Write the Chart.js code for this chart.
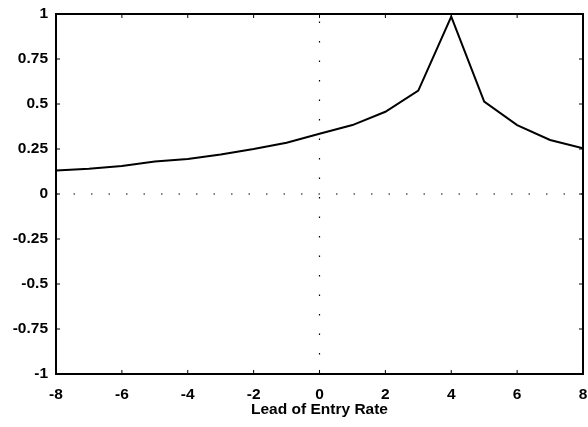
<!DOCTYPE html>
<html><head><meta charset="utf-8">
<script src="https://cdn.jsdelivr.net/npm/chart.js@4"></script>
<style>html,body{margin:0;padding:0;background:#fff}#wrap{width:588px;height:427px}</style>
</head><body><div id="wrap"><canvas id="c" width="588" height="427"></canvas></div>
<script>
const leads = [-8,-7,-6,-5,-4,-3,-2,-1,0,1,2,3,4,5,6,7,8];
const corr = [0.13,0.14,0.155,0.18,0.195,0.22,0.25,0.285,0.335,0.383,0.457,0.574,0.985,0.513,0.383,0.30,0.254];
const xTicks = [-8,-6,-4,-2,0,2,4,6,8];
const yTicks = [-1,-0.75,-0.5,-0.25,0,0.25,0.5,0.75,1];
const xTitle = "Lead of Entry Rate";

const font = {family:"'Liberation Sans', Arial, sans-serif", size:15.5, weight:'bold'};

const framePlugin = {
  id:'frame',
  afterDatasetsDraw(chart){
    const {ctx, chartArea:a, scales:{x,y}} = chart;
    ctx.save();
    ctx.strokeStyle='#000';
    ctx.lineWidth=1;
    ctx.beginPath();
    xTicks.forEach(v=>{const px=x.getPixelForValue(v);
      ctx.moveTo(px,a.bottom);ctx.lineTo(px,a.bottom-4);
      ctx.moveTo(px,a.top);ctx.lineTo(px,a.top+4);});
    yTicks.forEach(v=>{const py=y.getPixelForValue(v);
      ctx.moveTo(a.left,py);ctx.lineTo(a.left+4,py);
      ctx.moveTo(a.right,py);ctx.lineTo(a.right-4,py);});
    ctx.stroke();
    ctx.lineWidth=2;
    ctx.strokeRect(a.left,a.top,a.right-a.left,a.bottom-a.top);
    ctx.restore();
  }
};

new Chart(document.getElementById('c'),{
  type:'line',
  data:{datasets:[
    {data:leads.map((v,i)=>({x:v,y:corr[i]})),borderColor:'#000',borderWidth:2,pointRadius:0,tension:0,fill:false},
    {data:[{x:xTicks[0],y:0},{x:xTicks[xTicks.length-1],y:0}],borderColor:'#000',borderWidth:1.2,borderDash:[1.5,16],pointRadius:0,fill:false},
    {data:[{x:0,y:yTicks[0]},{x:0,y:yTicks[yTicks.length-1]}],borderColor:'#000',borderWidth:1.2,borderDash:[1.5,18],pointRadius:0,fill:false}
  ]},
  options:{
    responsive:false,animation:false,devicePixelRatio:1,
    layout:{padding:{top:14,right:5,left:0,bottom:8}},
    plugins:{legend:{display:false},tooltip:{enabled:false}},
    scales:{
      x:{type:'linear',min:-8,max:8,
        afterBuildTicks(s){s.ticks=xTicks.map(v=>({value:v}));},
        afterFit(s){s.height=45;s.paddingLeft=0;s.paddingRight=0;},
        grid:{display:false,drawTicks:false},border:{display:false},
        ticks:{color:'#000',font:font,padding:11,maxRotation:0,autoSkip:false,callback:v=>String(v)},
        title:{display:true,text:xTitle,color:'#000',font:font,padding:{top:0,bottom:0}}
      },
      y:{type:'linear',min:-1,max:1,
        afterBuildTicks(s){s.ticks=yTicks.map(v=>({value:v}));},
        afterFit(s){s.width=56;s.paddingTop=0;s.paddingBottom=0;},
        grid:{display:false,drawTicks:false},border:{display:false},
        ticks:{color:'#000',font:font,padding:8,autoSkip:false,callback:v=>String(v)}
      }
    }
  },
  plugins:[framePlugin]
});
</script></body></html>
